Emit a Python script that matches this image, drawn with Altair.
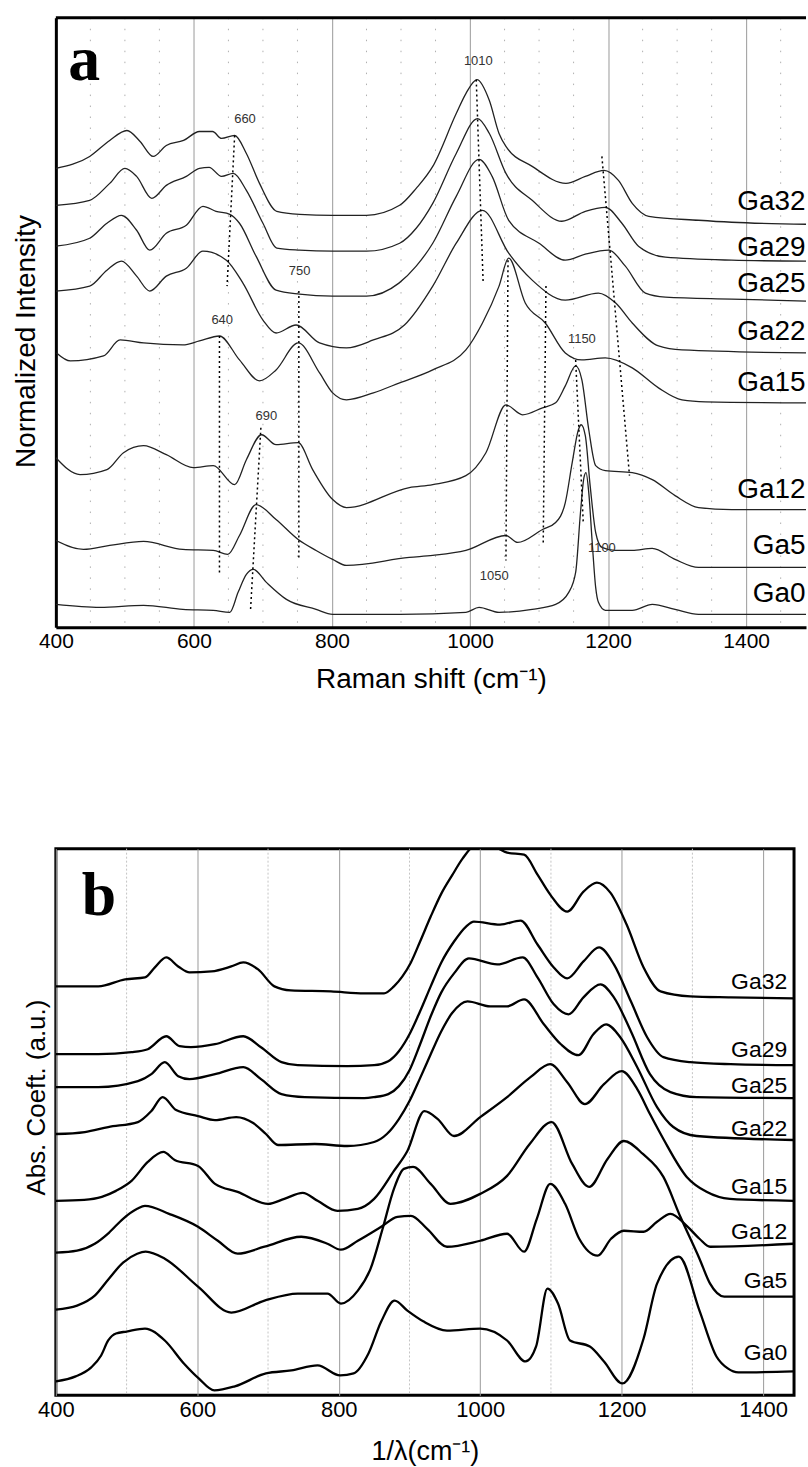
import altair as alt
import pandas as pd

# ---------------- Panel a : Raman spectra (offset, normalized) ----------------
a_names = ["Ga32", "Ga29", "Ga25", "Ga22", "Ga15", "Ga12", "Ga5", "Ga0"]

a_x_ga32 = [400, 449, 478, 503, 522, 541, 560, 585, 608, 627, 640, 659, 676, 695, 720, 753, 801, 850, 898, 922, 946, 980, 994, 1010, 1028, 1042, 1052, 1090, 1139, 1167, 1194, 1215, 1235, 1259, 1331, 1379, 1487]
a_y_ga32 = [460, 472, 488, 498, 487, 472, 483, 488, 497, 497, 490, 493, 475, 445, 417, 414, 413, 413, 423, 440, 462, 515, 535, 549, 528, 495, 482, 462, 445, 452, 458, 448, 425, 412, 408, 406, 404]

a_x_ga29 = [400, 449, 478, 500, 517, 539, 560, 589, 608, 622, 640, 657, 676, 700, 720, 753, 801, 850, 898, 922, 946, 980, 1011, 1028, 1052, 1090, 1133, 1167, 1196, 1220, 1244, 1283, 1379, 1487]
a_y_ga29 = [423, 428, 445, 460, 452, 430, 443, 452, 460, 461, 452, 455, 438, 405, 380, 378, 377, 377, 385, 400, 425, 475, 510, 495, 455, 428, 407, 417, 421, 405, 382, 371, 368, 367]

a_x_ga25 = [400, 449, 474, 495, 517, 536, 560, 589, 613, 632, 652, 666, 690, 719, 753, 801, 850, 897, 922, 946, 980, 1013, 1032, 1056, 1100, 1138, 1167, 1201, 1225, 1254, 1283, 1379, 1487]
a_y_ga25 = [382, 390, 405, 413, 398, 378, 395, 403, 422, 417, 414, 405, 372, 338, 334, 332, 332, 345, 362, 385, 432, 469, 452, 408, 385, 368, 374, 378, 362, 335, 331, 329, 327]

a_x_ga22 = [400, 449, 474, 495, 517, 536, 560, 589, 613, 647, 671, 700, 719, 748, 782, 821, 860, 905, 946, 980, 1018, 1056, 1090, 1138, 1186, 1211, 1235, 1273, 1307, 1487]
a_y_ga22 = [337, 342, 358, 367, 352, 337, 352, 360, 377, 368, 345, 308, 295, 303, 285, 280, 288, 303, 342, 385, 418, 375, 348, 328, 335, 325, 305, 282, 278, 275]

a_x_ga15 = [401, 421, 469, 493, 527, 584, 608, 637, 666, 695, 719, 751, 782, 801, 821, 860, 898, 946, 994, 1018, 1042, 1056, 1080, 1109, 1138, 1162, 1196, 1235, 1273, 1307, 1341, 1487]
a_y_ga15 = [275, 267, 272, 288, 285, 283, 287, 292, 268, 247, 258, 285, 255, 235, 228, 235, 245, 258, 278, 305, 342, 370, 325, 305, 275, 268, 270, 260, 240, 228, 226, 225]

a_x_ga12 = [400, 435, 474, 498, 527, 560, 599, 628, 659, 676, 698, 719, 751, 772, 801, 821, 912, 946, 994, 1023, 1052, 1076, 1105, 1124, 1138, 1153, 1162, 1172, 1182, 1196, 1235, 1264, 1297, 1331, 1379, 1487]
a_y_ga12 = [170, 153, 158, 175, 182, 173, 160, 162, 143, 168, 193, 183, 185, 158, 128, 120, 140, 143, 152, 175, 223, 213, 220, 225, 242, 262, 248, 198, 162, 157, 155, 148, 132, 120, 118, 118]

a_x_ga5 = [400, 440, 478, 527, 584, 628, 649, 666, 690, 719, 751, 777, 801, 821, 912, 946, 994, 1052, 1069, 1105, 1124, 1138, 1148, 1157, 1161, 1167, 1174, 1182, 1191, 1210, 1235, 1264, 1297, 1331, 1487]
a_y_ga5 = [87, 78, 82, 86, 78, 77, 73, 92, 123, 108, 88, 77, 68, 62, 70, 72, 77, 92, 85, 98, 105, 125, 165, 198, 203, 192, 142, 95, 80, 77, 77, 79, 68, 60, 60]

a_x_ga0 = [400, 464, 527, 584, 628, 652, 664, 676, 686, 705, 734, 777, 801, 821, 898, 994, 1013, 1042, 1090, 1124, 1143, 1153, 1160, 1165, 1168, 1172, 1177, 1182, 1186, 1196, 1235, 1264, 1297, 1331, 1487]
a_y_ga0 = [23, 20, 22, 18, 17, 15, 35, 53, 58, 45, 28, 18, 13, 13, 13, 15, 20, 15, 18, 23, 35, 55, 115, 150, 155, 135, 85, 40, 25, 17, 17, 23, 18, 13, 13]

a_label_y = [418, 372, 336, 288, 237, 130, 73, 25]

# peak annotations (text, position)
a_peak_text = ["660", "750", "640", "690", "1010", "1150", "1100", "1050"]
a_peak_x = [674, 753, 641, 705, 1012, 1162, 1191, 1035]
a_peak_y = [510, 357, 308, 212, 568, 289, 79, 51]

# dotted peak-shift guide lines (x1, y1, x2, y2)
a_guide_x1 = [659, 637, 752, 697, 1009, 1055, 1110, 1153, 1191]
a_guide_y1 = [493, 292, 337, 200, 549, 368, 342, 268, 472]
a_guide_x2 = [648, 637, 752, 682, 1019, 1052, 1106, 1164, 1231]
a_guide_y2 = [342, 52, 68, 17, 345, 67, 83, 105, 152]

a_major_ticks = [400, 600, 800, 1000, 1200, 1400]
a_minor_grid = [450, 500, 550, 650, 700, 750, 850, 900, 950, 1050, 1100, 1150, 1250, 1300, 1350, 1450]

# ---------------- Panel b : absorption coefficient ----------------
b_names = ["Ga32", "Ga29", "Ga25", "Ga22", "Ga15", "Ga12", "Ga5", "Ga0"]

b_x_ga32 = [400, 460, 498, 526, 540, 556, 573, 589, 620, 648, 665, 686, 709, 732, 789, 836, 864, 878, 890, 902, 915, 930, 945, 960, 975, 990, 1005, 1020, 1038, 1062, 1081, 1099, 1123, 1146, 1165, 1184, 1207, 1231, 1255, 1297, 1354, 1443]
b_y_ga32 = [410, 410, 417, 419, 429, 439, 430, 424, 425, 430, 434, 427, 410, 406, 405, 403, 403, 410, 420, 434, 455, 480, 503, 521, 538, 550, 552, 550, 544, 542, 522, 502, 485, 505, 514, 504, 472, 429, 405, 400, 399, 398]

b_x_ga29 = [400, 460, 507, 530, 556, 575, 591, 625, 665, 690, 719, 742, 812, 850, 870, 885, 900, 915, 930, 945, 963, 980, 991, 1028, 1057, 1081, 1104, 1123, 1146, 1168, 1189, 1213, 1236, 1259, 1297, 1354, 1443]
b_y_ga29 = [342, 342, 344, 347, 360, 350, 349, 352, 360, 349, 334, 331, 330, 331, 335, 345, 362, 385, 410, 434, 455, 470, 475, 472, 476, 452, 429, 418, 435, 449, 432, 395, 359, 339, 334, 332, 331]

b_x_ga25 = [400, 460, 516, 535, 554, 573, 589, 625, 665, 690, 719, 752, 836, 850, 870, 885, 900, 915, 930, 945, 963, 984, 1024, 1060, 1081, 1104, 1125, 1146, 1170, 1189, 1213, 1240, 1269, 1306, 1443]
b_y_ga25 = [309, 309, 315, 322, 334, 320, 317, 322, 329, 317, 302, 299, 298, 299, 302, 310, 326, 352, 380, 404, 423, 438, 432, 439, 419, 392, 382, 399, 412, 399, 365, 322, 304, 299, 298]

b_x_ga22 = [400, 441, 474, 516, 535, 551, 570, 601, 625, 655, 679, 697, 714, 766, 812, 850, 868, 885, 900, 915, 930, 945, 960, 982, 1014, 1038, 1062, 1090, 1114, 1139, 1160, 1178, 1198, 1222, 1250, 1273, 1306, 1443]
b_y_ga22 = [262, 264, 269, 274, 285, 299, 286, 280, 276, 279, 273, 262, 251, 252, 250, 254, 262, 277, 295, 318, 342, 365, 383, 395, 390, 390, 397, 372, 352, 341, 362, 372, 359, 329, 289, 269, 260, 256]

b_x_ga15 = [400, 440, 465, 485, 507, 530, 552, 568, 601, 625, 657, 700, 723, 749, 770, 798, 827, 850, 878, 897, 921, 940, 963, 1000, 1038, 1071, 1099, 1123, 1148, 1175, 1200, 1222, 1240, 1259, 1292, 1320, 1353, 1443]
b_y_ga15 = [195, 196, 199, 205, 215, 234, 244, 236, 230, 212, 204, 192, 197, 203, 195, 185, 187, 197, 225, 245, 285, 277, 260, 279, 299, 319, 332, 314, 292, 312, 325, 307, 282, 257, 219, 204, 197, 195]

b_x_ga12 = [400, 430, 455, 475, 495, 515, 526, 560, 601, 629, 657, 695, 747, 784, 803, 827, 860, 883, 902, 925, 953, 1000, 1038, 1062, 1080, 1099, 1120, 1140, 1166, 1185, 1203, 1231, 1250, 1269, 1292, 1310, 1325, 1443]
b_y_ga12 = [143, 145, 152, 163, 177, 187, 190, 182, 169, 155, 142, 149, 159, 152, 146, 155, 169, 179, 180, 167, 149, 155, 162, 144, 177, 212, 192, 157, 140, 157, 165, 164, 174, 182, 170, 157, 149, 152]

b_x_ga5 = [400, 430, 455, 475, 495, 515, 527, 554, 601, 648, 695, 742, 784, 803, 827, 845, 862, 878, 892, 905, 930, 958, 1000, 1038, 1070, 1101, 1130, 1154, 1180, 1203, 1230, 1259, 1283, 1310, 1325, 1345, 1443]
b_y_ga5 = [86, 90, 100, 117, 133, 142, 144, 137, 109, 83, 95, 102, 102, 92, 105, 127, 167, 207, 227, 229, 212, 192, 202, 220, 252, 274, 232, 209, 237, 255, 242, 219, 179, 137, 112, 99, 99]

b_x_ga0 = [400, 428, 450, 464, 474, 485, 500, 526, 554, 581, 602, 624, 653, 697, 733, 770, 802, 821, 842, 860, 879, 897, 920, 953, 1000, 1038, 1064, 1079, 1095, 1110, 1127, 1155, 1175, 1201, 1231, 1250, 1281, 1310, 1334, 1350, 1365, 1443]
b_y_ga0 = [14, 19, 28, 40, 55, 62, 64, 67, 55, 32, 17, 5, 9, 22, 25, 30, 20, 22, 42, 74, 95, 85, 74, 65, 67, 55, 34, 49, 107, 92, 55, 49, 34, 12, 57, 112, 139, 85, 39, 27, 23, 24]

b_label_y = [407, 339, 303, 260, 202, 157, 108, 35]

b_major_ticks = [400, 600, 800, 1000, 1200, 1400]
b_minor_grid = [500, 700, 900, 1100, 1300]

# ---------------- build tables ----------------
def long_table(names, xs, ys):
    rows = []
    for n, xv, yv in zip(names, xs, ys):
        for i, (xx, yy) in enumerate(zip(xv, yv)):
            rows.append({"x": xx, "y": yy, "s": n, "i": i})
    return pd.DataFrame(rows)

a_df = long_table(a_names,
                  [a_x_ga32, a_x_ga29, a_x_ga25, a_x_ga22, a_x_ga15, a_x_ga12, a_x_ga5, a_x_ga0],
                  [a_y_ga32, a_y_ga29, a_y_ga25, a_y_ga22, a_y_ga15, a_y_ga12, a_y_ga5, a_y_ga0])
b_df = long_table(b_names,
                  [b_x_ga32, b_x_ga29, b_x_ga25, b_x_ga22, b_x_ga15, b_x_ga12, b_x_ga5, b_x_ga0],
                  [b_y_ga32, b_y_ga29, b_y_ga25, b_y_ga22, b_y_ga15, b_y_ga12, b_y_ga5, b_y_ga0])

FONT = "Liberation Sans, Arial, sans-serif"
SERIF = "Liberation Serif, Times New Roman, serif"

# ---------------- Panel a ----------------
AW, AH = 752, 611
ax_scale = alt.Scale(domain=[400, 1486.7], nice=False, zero=False)
ay_scale = alt.Scale(domain=[0, 611], nice=False, zero=False)

a_xaxis = alt.Axis(values=a_major_ticks, format="d", grid=True, gridColor="#9a9a9a", gridWidth=1,
                   ticks=False, domain=True, domainColor="black", domainWidth=3,
                   labelFont=FONT, labelFontSize=21, labelColor="black", labelPadding=3,
                   labelFlush=False, labelOverlap=False,
                   title="Raman shift (cm⁻¹)", titleFont=FONT, titleFontSize=28,
                   titleFontWeight="normal", titleColor="black", titlePadding=14)
a_yaxis = alt.Axis(labels=False, ticks=False, grid=False, domain=True, domainColor="black",
                   domainWidth=3, title="Normalized Intensity", titleFont=FONT, titleFontSize=28,
                   titleFontWeight="normal", titleColor="black", titleX=-29, titleY=324,
                   titleBaseline="middle")

a_minor = alt.Chart(pd.DataFrame({"x": a_minor_grid})).mark_rule(
    color="#b0b0b0", strokeDash=[1.5, 9.5], strokeWidth=1).encode(
    x=alt.X("x:Q", scale=ax_scale, axis=a_xaxis))

a_lines = alt.Chart(a_df).mark_line(interpolate="monotone", color="#222222", strokeWidth=1.3,
                                    clip=True).encode(
    x=alt.X("x:Q", scale=ax_scale, axis=a_xaxis),
    y=alt.Y("y:Q", scale=ay_scale, axis=a_yaxis),
    detail="s:N", order="i:Q")

a_guides = alt.Chart(pd.DataFrame({"x1": a_guide_x1, "y1": a_guide_y1,
                                   "x2": a_guide_x2, "y2": a_guide_y2})).mark_rule(
    color="black", strokeDash=[2, 3], strokeWidth=1.5).encode(
    x=alt.X("x1:Q", scale=ax_scale), y=alt.Y("y1:Q", scale=ay_scale),
    x2="x2:Q", y2="y2:Q")

a_peaks = alt.Chart(pd.DataFrame({"t": a_peak_text, "x": a_peak_x, "y": a_peak_y})).mark_text(
    font=FONT, fontSize=13, color="#333333", baseline="middle", align="center").encode(
    x=alt.X("x:Q", scale=ax_scale), y=alt.Y("y:Q", scale=ay_scale), text="t:N")

a_labels = alt.Chart(pd.DataFrame({"t": a_names, "y": a_label_y,
                                   "x": [1486] * len(a_names)})).mark_text(
    font=FONT, fontSize=28, color="black", align="right", baseline="alphabetic").encode(
    x=alt.X("x:Q", scale=ax_scale), y=alt.Y("y:Q", scale=ay_scale), text="t:N")

a_letter = alt.Chart(pd.DataFrame({"t": ["a"], "x": [441], "y": [549]})).mark_text(
    font=SERIF, fontSize=64, fontWeight="bold", color="black", align="center",
    baseline="alphabetic").encode(
    x=alt.X("x:Q", scale=ax_scale), y=alt.Y("y:Q", scale=ay_scale), text="t:N")

a_top = alt.Chart(pd.DataFrame({"k": [0]})).mark_rule(color="black", strokeWidth=3).encode(
    x=alt.value(0), x2=alt.value(AW), y=alt.value(0))

panel_a = alt.layer(a_minor, a_lines, a_guides, a_peaks, a_labels, a_letter, a_top).properties(
    width=AW, height=AH, view=alt.ViewBackground(stroke="transparent", strokeWidth=0))

# ---------------- Panel b ----------------
BW, BH = 740, 548
bx_scale = alt.Scale(domain=[400, 1443.7], nice=False, zero=False)
by_scale = alt.Scale(domain=[0, 548], nice=False, zero=False)

b_xaxis = alt.Axis(values=b_major_ticks, format="d", grid=True, gridColor="#9a9a9a", gridWidth=1,
                   ticks=False, domain=False,
                   labelFont=FONT, labelFontSize=22, labelColor="black", labelPadding=4,
                   labelFlush=False, labelOverlap=False,
                   title="1/λ(cm⁻¹)", titleFont=FONT, titleFontSize=27,
                   titleFontWeight="normal", titleColor="black", titlePadding=18)
b_yaxis = alt.Axis(labels=False, ticks=False, grid=False, domain=False,
                   title="Abs. Coeft. (a.u.)", titleFont=FONT, titleFontSize=26,
                   titleFontWeight="normal", titleColor="black", titleX=-19, titleY=249,
                   titleBaseline="middle")

b_minor = alt.Chart(pd.DataFrame({"x": b_minor_grid})).mark_rule(
    color="#c4c4c4", strokeDash=[2, 2], strokeWidth=1).encode(
    x=alt.X("x:Q", scale=bx_scale, axis=b_xaxis))

b_lines = alt.Chart(b_df).mark_line(interpolate="monotone", color="black", strokeWidth=2.3,
                                    clip=True).encode(
    x=alt.X("x:Q", scale=bx_scale, axis=b_xaxis),
    y=alt.Y("y:Q", scale=by_scale, axis=b_yaxis),
    detail="s:N", order="i:Q")

b_labels = alt.Chart(pd.DataFrame({"t": b_names, "y": b_label_y,
                                   "x": [1434] * len(b_names)})).mark_text(
    font=FONT, fontSize=23, color="black", align="right", baseline="alphabetic").encode(
    x=alt.X("x:Q", scale=bx_scale), y=alt.Y("y:Q", scale=by_scale), text="t:N")

b_letter = alt.Chart(pd.DataFrame({"t": ["b"], "x": [461], "y": [482]})).mark_text(
    font=SERIF, fontSize=62, fontWeight="bold", color="black", align="center",
    baseline="alphabetic").encode(
    x=alt.X("x:Q", scale=bx_scale), y=alt.Y("y:Q", scale=by_scale), text="t:N")

panel_b = alt.layer(b_minor, b_lines, b_labels, b_letter).properties(
    width=BW, height=BH, view=alt.ViewBackground(stroke="black", strokeWidth=3))

chart = alt.vconcat(panel_a, panel_b, spacing=154).properties(
    padding={"left": 13, "top": 14, "right": 0, "bottom": 0},
    background="white")

chart.save("out.html", embed_options={"renderer": "svg", "actions": False})
